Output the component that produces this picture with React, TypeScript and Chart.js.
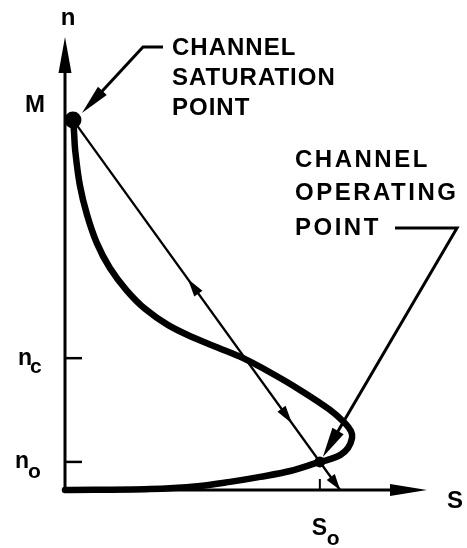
import { useEffect, useRef } from "react";
import { Chart, registerables } from "chart.js";

Chart.register(...registerables);

// Channel characteristic n(S): thick S-shaped curve
const curveS = [0.22, 0.25, 0.28, 0.41, 0.61, 0.88, 1.24, 1.69, 2.21, 2.85, 3.56, 4.23, 4.92, 5.66, 6.49, 7.32, 7.73, 7.9, 7.93, 7.82, 7.6, 7.24, 7.04, 6.22, 5.39, 4.56, 3.73, 2.35, 0];
const curveN = [8.21, 7.9, 7.51, 6.73, 6.07, 5.45, 4.9, 4.42, 4.0, 3.64, 3.36, 3.14, 2.91, 2.6, 2.21, 1.77, 1.48, 1.3, 1.15, 0.93, 0.77, 0.66, 0.62, 0.42, 0.29, 0.18, 0.09, 0.02, 0];

// Saturation point (S, n), operating point and where the straight line meets the S axis
const saturationPoint = [0.22, 8.17];
const operatingPoint = [7.04, 0.62];
const lineEnd = [7.6, 0];

// Marked levels on the n axis
const nTickValues = [2.91, 0.62];
const nTickLabels = [["n", "c"], ["n", "o"]];
const mLabel = "M";
const sTickLabel = ["S", "o"];

const saturationText = ["CHANNEL", "SATURATION", "POINT"];
const operatingText = ["CHANNEL", "OPERATING", "POINT"];

const FONT = "'Liberation Sans', Arial, Helvetica, sans-serif";

function arrowHead(ctx: CanvasRenderingContext2D, tx: number, ty: number, ux: number, uy: number, len: number, half: number) {
  const bx = tx - ux * len;
  const by = ty - uy * len;
  ctx.beginPath();
  ctx.moveTo(tx, ty);
  ctx.lineTo(bx - uy * half, by + ux * half);
  ctx.lineTo(bx + uy * half, by - ux * half);
  ctx.closePath();
  ctx.fill();
}

function unit(ax: number, ay: number, bx: number, by: number) {
  const dx = bx - ax;
  const dy = by - ay;
  const d = Math.hypot(dx, dy) || 1;
  return [dx / d, dy / d];
}

const diagramPlugin = {
  id: "diagram",
  afterDatasetsDraw(chart: any) {
    const { ctx } = chart;
    const xs = chart.scales.x;
    const ys = chart.scales.y;
    const ox = xs.getPixelForValue(0);
    const oy = ys.getPixelForValue(0);
    const xEnd = xs.getPixelForValue(10);
    const yEnd = ys.getPixelForValue(10);

    ctx.save();
    ctx.fillStyle = "#000";
    ctx.strokeStyle = "#000";
    ctx.lineCap = "butt";

    // axes with arrows
    ctx.lineWidth = 3;
    ctx.beginPath();
    ctx.moveTo(ox, oy + 1.5);
    ctx.lineTo(ox, yEnd + 20);
    ctx.moveTo(ox - 1.5, oy);
    ctx.lineTo(xEnd - 20, oy);
    ctx.stroke();
    arrowHead(ctx, ox, yEnd, 0, -1, 36, 6.5);
    arrowHead(ctx, xEnd, oy, 1, 0, 37, 6);

    // n-axis ticks
    ctx.lineWidth = 2.5;
    nTickValues.forEach((v) => {
      const py = ys.getPixelForValue(v);
      ctx.beginPath();
      ctx.moveTo(ox, py);
      ctx.lineTo(ox + 17, py);
      ctx.stroke();
    });

    // S_o tick
    const sx = xs.getPixelForValue(operatingPoint[0]);
    ctx.lineWidth = 2;
    ctx.beginPath();
    ctx.moveTo(sx, oy - 11);
    ctx.lineTo(sx, oy);
    ctx.stroke();

    // axis labels
    ctx.textBaseline = "alphabetic";
    ctx.font = `bold 24px ${FONT}`;
    ctx.textAlign = "center";
    ctx.fillText("n", ox + 3, 25);
    ctx.textAlign = "left";
    ctx.fillText("S", xEnd + 20, oy + 18);
    const mY = ys.getPixelForValue(saturationPoint[1]);
    ctx.textAlign = "right";
    ctx.fillText(mLabel, ox - 20, mY - 8);

    ctx.textAlign = "left";
    const nLeft = [18, 15];
    const nBase = [7, 6];
    const subLeft = [30, 28];
    const subBase = [15, 16];
    nTickValues.forEach((v, i) => {
      const py = ys.getPixelForValue(v);
      ctx.font = `bold 23px ${FONT}`;
      ctx.fillText(nTickLabels[i][0], nLeft[i], py + nBase[i]);
      ctx.font = `bold 21px ${FONT}`;
      ctx.fillText(nTickLabels[i][1], subLeft[i], py + subBase[i]);
    });
    ctx.font = `bold 23px ${FONT}`;
    ctx.fillText(sTickLabel[0], sx - 8, oy + 45);
    ctx.font = `bold 21px ${FONT}`;
    ctx.fillText(sTickLabel[1], sx + 7, oy + 55);

    // arrows along the straight line
    const p0x = xs.getPixelForValue(saturationPoint[0]);
    const p0y = ys.getPixelForValue(saturationPoint[1]);
    const p1x = xs.getPixelForValue(lineEnd[0]);
    const p1y = ys.getPixelForValue(lineEnd[1]);
    const [ux, uy] = unit(p0x, p0y, p1x, p1y);
    const at = (t: number) => [p0x + (p1x - p0x) * t, p0y + (p1y - p0y) * t];
    const [ax, ay] = at(0.43);
    arrowHead(ctx, ax, ay, -ux, -uy, 18, 5);
    const [bx, by] = at(0.82);
    arrowHead(ctx, bx, by, ux, uy, 18, 5);
    arrowHead(ctx, p1x, p1y, ux, uy, 16, 5);

    // annotation texts
    ctx.font = `bold 24px ${FONT}`;
    (ctx as any).letterSpacing = "1px";
    saturationText.forEach((t, i) => ctx.fillText(t, 172, 55 + i * 30));
    (ctx as any).letterSpacing = "2.5px";
    const opBase = [167, 200, 235];
    operatingText.forEach((t, i) => ctx.fillText(t, 295, opBase[i]));
    (ctx as any).letterSpacing = "0px";

    // leader to the saturation point
    ctx.lineWidth = 3;
    const stx = p0x + 9;
    const sty = p0y - 7;
    const [lx, ly] = unit(143, 47, stx, sty);
    ctx.beginPath();
    ctx.moveTo(163, 47);
    ctx.lineTo(143, 47);
    ctx.lineTo(stx - lx * 20, sty - ly * 20);
    ctx.stroke();
    arrowHead(ctx, stx, sty, lx, ly, 30, 6);

    // leader to the operating point
    const opx = xs.getPixelForValue(operatingPoint[0]);
    const opy = ys.getPixelForValue(operatingPoint[1]);
    const otx = opx + 3;
    const oty = opy - 5;
    const [mx, my] = unit(457, 228, otx, oty);
    ctx.beginPath();
    ctx.moveTo(395, 228);
    ctx.lineTo(457, 228);
    ctx.lineTo(otx - mx * 20, oty - my * 20);
    ctx.stroke();
    arrowHead(ctx, otx, oty, mx, my, 30, 6.5);

    ctx.restore();
  },
};

export default function App() {
  const canvasRef = useRef<HTMLCanvasElement | null>(null);

  useEffect(() => {
    const canvas = canvasRef.current;
    if (!canvas) return;
    const chart = new Chart(canvas, {
      type: "scatter",
      data: {
        datasets: [
          {
            data: curveS.map((s, i) => ({ x: s, y: curveN[i] })),
            showLine: true,
            borderColor: "#000",
            borderWidth: 6.5,
            borderCapStyle: "round",
            borderJoinStyle: "round",
            tension: 0.35,
            pointRadius: 0,
            clip: false,
          } as any,
          {
            data: [
              { x: saturationPoint[0], y: saturationPoint[1] },
              { x: lineEnd[0], y: lineEnd[1] },
            ],
            showLine: true,
            borderColor: "#000",
            borderWidth: 2.3,
            pointRadius: 0,
            clip: false,
          } as any,
          {
            data: [
              { x: saturationPoint[0], y: saturationPoint[1] },
              { x: operatingPoint[0], y: operatingPoint[1] },
            ],
            showLine: false,
            pointRadius: [8.5, 5.5],
            pointBackgroundColor: "#000",
            pointBorderWidth: 0,
            clip: false,
          } as any,
        ],
      },
      options: {
        animation: false,
        responsive: false,
        devicePixelRatio: 1,
        layout: { padding: { left: 65, right: 40, top: 37, bottom: 58 } },
        scales: {
          x: { type: "linear", min: 0, max: 10, display: false },
          y: { type: "linear", min: 0, max: 10, display: false },
        },
        plugins: { legend: { display: false }, tooltip: { enabled: false } },
        events: [],
      },
      plugins: [diagramPlugin],
    });
    return () => chart.destroy();
  }, []);

  return (
    <div style={{ position: "fixed", left: 0, top: 0, width: 467, height: 548, background: "#fff" }}>
      <canvas ref={canvasRef} width={467} height={548} style={{ display: "block" }} />
    </div>
  );
}
